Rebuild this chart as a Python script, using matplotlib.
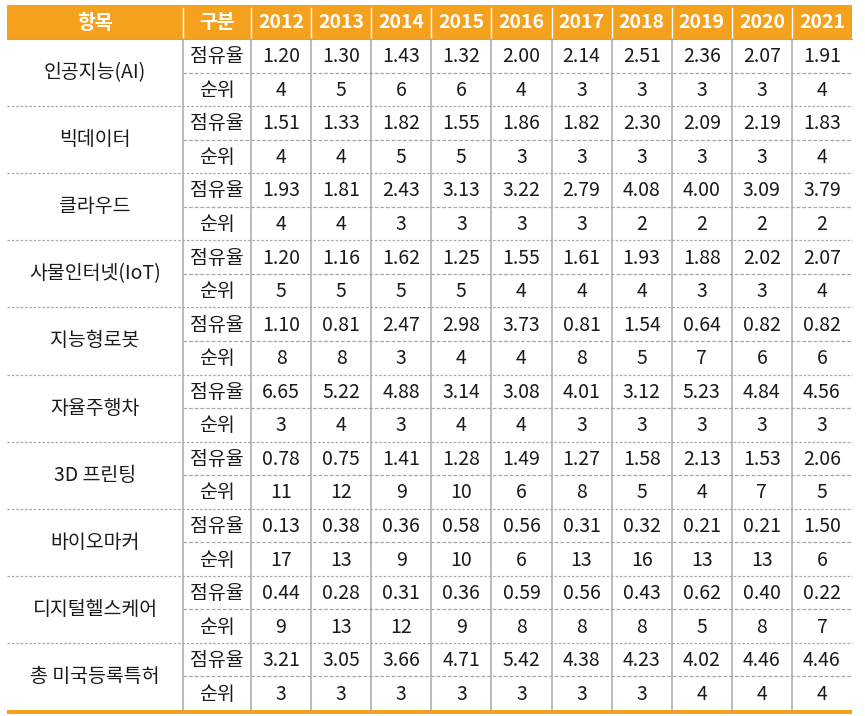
import matplotlib
matplotlib.use("Agg")
import matplotlib.pyplot as plt
from matplotlib.patches import Rectangle

plt.rcParams['font.family'] = ['Noto Sans CJK KR', 'DejaVu Sans']

years = ["2012", "2013", "2014", "2015", "2016", "2017", "2018", "2019", "2020", "2021"]
items = ["인공지능(AI)", "빅데이터", "클라우드", "사물인터넷(IoT)", "지능형로봇",
         "자율주행차", "3D 프린팅", "바이오마커", "디지털헬스케어", "총 미국등록특허"]
sub_labels = ["점유율", "순위"]
header_labels = ["항목", "구분"]

share = [
    ["1.20", "1.30", "1.43", "1.32", "2.00", "2.14", "2.51", "2.36", "2.07", "1.91"],
    ["1.51", "1.33", "1.82", "1.55", "1.86", "1.82", "2.30", "2.09", "2.19", "1.83"],
    ["1.93", "1.81", "2.43", "3.13", "3.22", "2.79", "4.08", "4.00", "3.09", "3.79"],
    ["1.20", "1.16", "1.62", "1.25", "1.55", "1.61", "1.93", "1.88", "2.02", "2.07"],
    ["1.10", "0.81", "2.47", "2.98", "3.73", "0.81", "1.54", "0.64", "0.82", "0.82"],
    ["6.65", "5.22", "4.88", "3.14", "3.08", "4.01", "3.12", "5.23", "4.84", "4.56"],
    ["0.78", "0.75", "1.41", "1.28", "1.49", "1.27", "1.58", "2.13", "1.53", "2.06"],
    ["0.13", "0.38", "0.36", "0.58", "0.56", "0.31", "0.32", "0.21", "0.21", "1.50"],
    ["0.44", "0.28", "0.31", "0.36", "0.59", "0.56", "0.43", "0.62", "0.40", "0.22"],
    ["3.21", "3.05", "3.66", "4.71", "5.42", "4.38", "4.23", "4.02", "4.46", "4.46"],
]
rank = [
    [4, 5, 6, 6, 4, 3, 3, 3, 3, 4],
    [4, 4, 5, 5, 3, 3, 3, 3, 3, 4],
    [4, 4, 3, 3, 3, 3, 2, 2, 2, 2],
    [5, 5, 5, 5, 4, 4, 4, 3, 3, 4],
    [8, 8, 3, 4, 4, 8, 5, 7, 6, 6],
    [3, 4, 3, 4, 4, 3, 3, 3, 3, 3],
    [11, 12, 9, 10, 6, 8, 5, 4, 7, 5],
    [17, 13, 9, 10, 6, 13, 16, 13, 13, 6],
    [9, 13, 12, 9, 8, 8, 8, 5, 8, 7],
    [3, 3, 3, 3, 3, 3, 3, 4, 4, 4],
]

ORANGE = "#F4A21E"
GRID = "#A8A8A8"
TXT = "#1a1a1a"

W, H = 865, 716
fig = plt.figure(figsize=(W / 100, H / 100), dpi=100)
ax = fig.add_axes([0, 0, 1, 1])
ax.set_xlim(0, W)
ax.set_ylim(H, 0)
ax.axis("off")

left, right = 7, 852
c1, c2 = 183, 251
ncol = len(years)
yw = (right - c2) / ncol
xb = [left, c1, c2] + [c2 + yw * (i + 1) for i in range(ncol)]
top, hbot, bottom = 5, 39, 710
ng = len(items)
gh = (bottom - hbot) / ng

FS = 14

# header
ax.add_patch(Rectangle((left, top), right - left, hbot - top, color=ORANGE, lw=0))
hdr = header_labels + years
for i, lab in enumerate(hdr):
    xc = (xb[i] + xb[i + 1]) / 2
    ax.text(xc, (top + hbot) / 2 + 1, lab, ha="center", va="center", color="white",
            fontsize=FS, fontweight="bold")
for x in xb[2:-1]:
    ax.plot([x, x], [top + 3, hbot], color="white", lw=1)
ax.plot([c1, c1], [top + 3, hbot], color="white", lw=1)

# vertical grid lines in body
for x in xb[1:-1]:
    ax.plot([x, x], [hbot, bottom], color=GRID, lw=1.1)

# body
for g in range(ng):
    y0 = hbot + g * gh
    ym = y0 + gh / 2
    ax.text((left + c1) / 2, ym, items[g], ha="center", va="center", color=TXT, fontsize=FS)
    # subrow separator
    ax.plot([c1, right], [ym, ym], color=GRID, lw=0.9, ls=(0, (3, 1.5)))
    if g > 0:
        ax.plot([left, right], [y0, y0], color=GRID, lw=0.9, ls=(0, (2, 1.5)))
    for s, vals in enumerate([share[g], rank[g]]):
        yc = y0 + gh / 4 + s * gh / 2 + 1
        ax.text((c1 + c2) / 2, yc, sub_labels[s], ha="center", va="center", color=TXT, fontsize=FS)
        for j, v in enumerate(vals):
            xc = (xb[j + 2] + xb[j + 3]) / 2
            ax.text(xc, yc, str(v), ha="center", va="center", color=TXT, fontsize=FS)

ax.plot([left, right], [hbot, hbot], color=GRID, lw=0.8)
ax.add_patch(Rectangle((left, bottom), right - left, 4, color=ORANGE, lw=0))

fig.savefig("out.png", dpi=100, facecolor="white")
